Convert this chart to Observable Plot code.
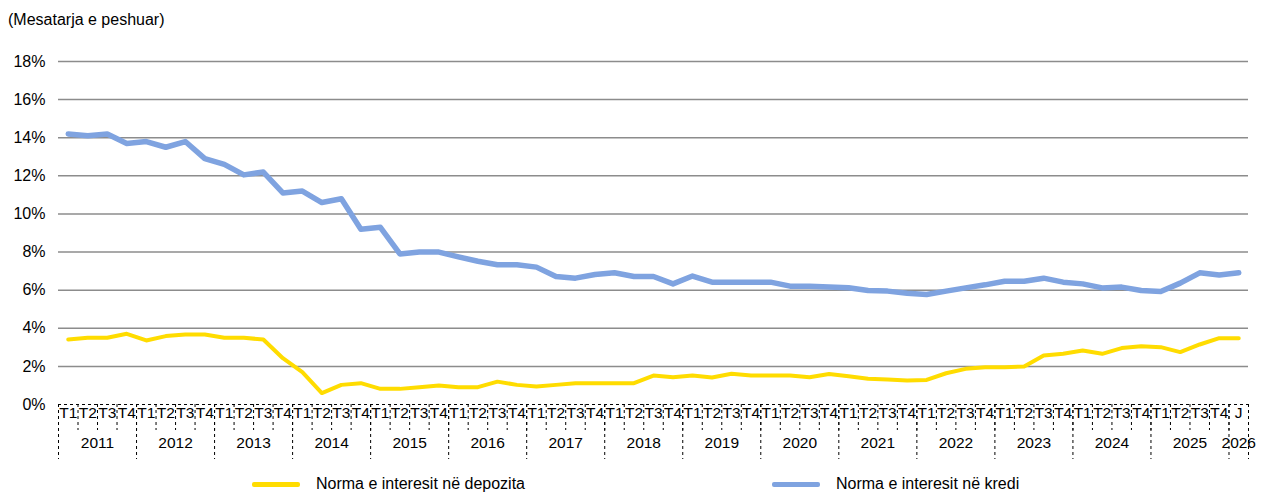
<!DOCTYPE html>
<html>
<head>
<meta charset="utf-8">
<script src="https://cdn.jsdelivr.net/npm/d3@7"></script>
<script src="https://cdn.jsdelivr.net/npm/@observablehq/plot@0.6"></script>
<style>
  html, body { margin: 0; padding: 0; background: #fff; }
  body { width: 1265px; height: 494px; overflow: hidden; font-family: "Liberation Sans", Arial, sans-serif; color: #000; }
  #title { height: 40px; line-height: 40px; padding-left: 8px; font-size: 16px; }
  #chart svg { display: block; font-family: "Liberation Sans", Arial, sans-serif; }
  #legend { position: relative; height: 29px; font-size: 16px; }
  .item { position: absolute; top: 0; height: 38px; display: flex; align-items: center; }
  .sw { width: 48px; height: 5px; border-radius: 2px; margin-right: 16px; }
</style>
</head>
<body>
<div id="title">(Mesatarja e peshuar)</div>
<div id="chart"></div>
<div id="legend"></div>
<script>
const years = ["2011","2012","2013","2014","2015","2016","2017","2018","2019","2020","2021","2022","2023","2024","2025","2026"];
const quarterLabels = ["T1","T2","T3","T4"];
const lastYearLabels = ["J"];
const yTicks = [0, 2, 4, 6, 8, 10, 12, 14, 16, 18];

const seriesNames = ["Norma e interesit në depozita", "Norma e interesit në kredi"];
const seriesColors = ["#FFDC00", "#7FA3E0"];

const deposit = [3.41,3.5,3.5,3.71, 3.36,3.59,3.67,3.67, 3.5,3.5,3.41,2.43, 1.7,0.6,1.03,1.12,
  0.82,0.82,0.91,1.0, 0.91,0.91,1.2,1.03, 0.94,1.03,1.12,1.12, 1.12,1.12,1.52,1.43,
  1.52,1.42,1.61,1.52, 1.52,1.52,1.43,1.6, 1.48,1.35,1.31,1.26, 1.29,1.64,1.87,1.96,
  1.96,1.99,2.57,2.66, 2.83,2.66,2.96,3.06, 3.01,2.75,3.15,3.48, 3.48];
const credit = [14.2,14.1,14.2,13.7, 13.8,13.5,13.8,12.9, 12.6,12.05,12.2,11.1, 11.2,10.6,10.8,9.2,
  9.3,7.9,8.0,8.0, 7.75,7.52,7.33,7.33, 7.21,6.72,6.63,6.82, 6.91,6.72,6.72,6.33,
  6.74,6.42,6.42,6.42, 6.42,6.21,6.21,6.16, 6.13,5.98,5.95,5.84, 5.77,5.95,6.12,6.28,
  6.47,6.47,6.63,6.42, 6.33,6.12,6.16,5.98, 5.93,6.37,6.91,6.8, 6.91];

// build period table
const periods = [];
years.forEach((y, yi) => {
  const qs = yi === years.length - 1 ? lastYearLabels : quarterLabels;
  qs.forEach(q => periods.push({year: y, q, i: periods.length}));
});
periods.forEach((p, k) => { p.deposit = deposit[k]; p.credit = credit[k]; });

const boundaries = d3.range(periods.length + 1).map(k => k - 0.5);
const yearGroups = years.map(y => {
  const idx = periods.filter(p => p.year === y).map(p => p.i);
  return {year: y, first: d3.min(idx) - 0.5, center: d3.mean(idx)};
});
const yearBounds = yearGroups.map(g => g.first).concat([periods.length - 0.5]);

const dash = "3,3";
const chart = Plot.plot({
  width: 1265,
  height: 425,
  marginTop: 21,
  marginBottom: 61,
  marginLeft: 58,
  marginRight: 17,
  x: {type: "linear", domain: [-0.5, periods.length - 0.5], axis: null},
  y: {domain: [0, 18], axis: null},
  marks: [
    Plot.ruleY(yTicks.filter(d => d > 0), {stroke: "#8c8c8c", strokeWidth: 1.5}),
    Plot.axisY({ticks: yTicks, tickFormat: d => d + "%", tickSize: 0, tickPadding: 13, fontSize: 16, fill: "#000"}),
    Plot.ruleY([0], {stroke: "#000", strokeWidth: 1, strokeDasharray: dash}),
    Plot.ruleX(boundaries, {x: d => d, y1: 0, y2: 0, insetBottom: -26, stroke: "#000", strokeWidth: 1, strokeDasharray: dash}),
    Plot.ruleX(yearBounds, {x: d => d, y1: 0, y2: 0, insetBottom: -55, stroke: "#000", strokeWidth: 1, strokeDasharray: dash}),
    Plot.text(periods, {x: "i", y: 0, text: "q", dy: 9, fontSize: 15.5, fill: "#000"}),
    Plot.text(yearGroups, {x: "center", y: 0, text: "year", dy: 39, fontSize: 15.5, fill: "#000"}),
    Plot.line(periods, {x: "i", y: "deposit", stroke: seriesColors[0], strokeWidth: 4, strokeLinejoin: "round", strokeLinecap: "round"}),
    Plot.line(periods, {x: "i", y: "credit", stroke: seriesColors[1], strokeWidth: 5.5, strokeLinejoin: "round", strokeLinecap: "round"})
  ]
});
document.getElementById("chart").appendChild(chart);

const legend = document.getElementById("legend");
const legendLeft = [252, 772];
seriesNames.forEach((name, k) => {
  const it = document.createElement("div");
  it.className = "item";
  it.style.left = legendLeft[k] + "px";
  it.innerHTML = `<span class="sw" style="background:${seriesColors[k]}"></span><span>${name}</span>`;
  legend.appendChild(it);
});
</script>
</body>
</html>
